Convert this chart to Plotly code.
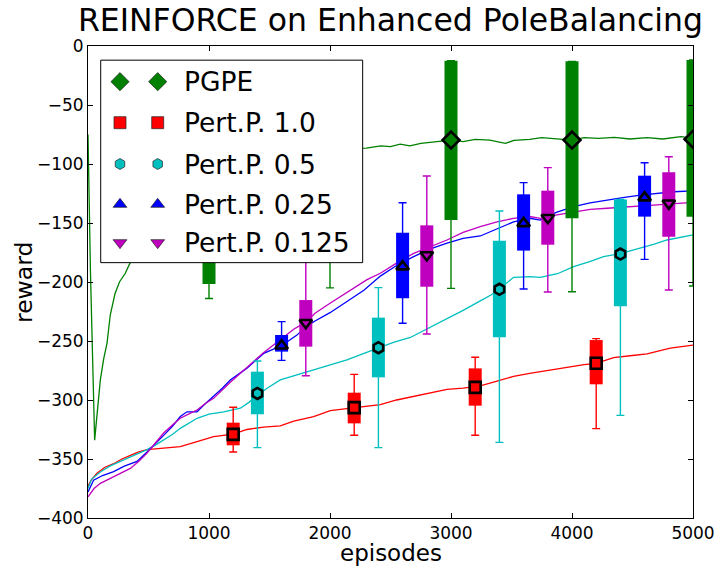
import plotly.graph_objects as go

# ---------------- data ----------------
# learning curves (episodes, reward)
pgpe_x = [0, 20, 55, 102, 130, 157, 184, 223, 260, 306, 347, 420, 500, 600, 750, 900, 1000, 1200,
          1500, 1800, 2000, 2150, 2300, 2420, 2500, 2580, 2660, 2750, 2860, 3000, 3100, 3200, 3320,
          3450, 3520, 3650, 3750, 3870, 4000, 4100, 4220, 4350, 4480, 4620, 4750, 4900, 5000]
pgpe_y = [-75, -190, -334, -283, -265, -252, -228, -210, -200, -193, -184, -165, -150, -137, -120,
          -108, -102, -95, -90, -88, -87, -87, -86.5, -84.7, -85.3, -83.1, -84.7, -82.5, -81.1, -79.7,
          -81.1, -79.1, -79.7, -82.5, -80, -79.1, -77.7, -78.8, -79.7, -77.7, -78.2, -77.4, -78.8,
          -77.7, -78.8, -76.8, -78]

p10_x = [0, 25, 74, 140, 212, 280, 350, 420, 488, 600, 763, 901, 1038, 1200, 1314, 1450, 1589, 1700,
         1865, 2002, 2200, 2416, 2550, 2691, 2830, 2967, 3100, 3242, 3380, 3517, 3650, 3793, 3950,
         4100, 4200, 4344, 4480, 4620, 4812, 5000]
p10_y = [-373, -368, -362, -357, -354, -350, -347, -344, -342, -341, -339.6, -335.3, -331, -329, -325,
         -323, -322, -318, -314, -309, -306.5, -304, -300, -297, -294, -291, -290, -288, -284, -280,
         -277.5, -275, -272, -270, -269, -264, -262.5, -261, -256, -253.5]

p05_x = [0, 30, 102, 180, 267, 380, 488, 560, 625, 700, 763, 830, 901, 1000, 1121, 1259, 1330, 1400,
         1480, 1589, 1720, 1865, 2000, 2140, 2270, 2400, 2530, 2664, 2800, 2967, 3100, 3242, 3330,
         3400, 3517, 3650, 3738, 3880, 4013, 4140, 4261, 4407, 4565, 4680, 4785, 4900, 5000]
p05_y = [-375, -367, -361, -356, -352, -347, -342, -338, -334, -329, -324, -320, -315.5, -312, -310,
         -307, -302, -296, -290, -283, -279, -274.6, -270, -266, -261, -255.7, -251, -247, -240, -231,
         -224, -216, -211, -206, -196, -195.5, -196, -193, -187, -183, -178.5, -175.7, -171.5, -168,
         -164.4, -162, -160]

p025_x = [0, 46, 120, 212, 300, 405, 488, 560, 625, 700, 763, 818, 901, 960, 1038, 1110, 1176, 1250,
          1314, 1380, 1452, 1600, 1727, 1800, 1876, 2000, 2151, 2280, 2416, 2550, 2691, 2830, 2967,
          3100, 3242, 3380, 3517, 3650, 3738, 3870, 4013, 4150, 4289, 4420, 4565, 4700, 4840, 5000]
p025_y = [-378, -368, -364, -360.7, -356, -352, -344, -337, -330, -322, -314, -310, -310, -304, -297,
          -290, -283, -278, -273, -267, -260.5, -254, -245, -238, -233, -226, -216, -207, -195, -186,
          -178.5, -172, -167, -163, -161, -155, -149, -146, -147.5, -141, -136.2, -133, -130.5, -128.5,
          -126.3, -125, -123.5, -122.7]

p0125_x = [0, 50, 102, 212, 350, 420, 488, 560, 625, 700, 763, 830, 901, 970, 1038, 1176, 1314, 1450,
           1589, 1700, 1800, 1876, 2000, 2151, 2306, 2416, 2550, 2691, 2830, 2967, 3100, 3242, 3380,
           3517, 3650, 3738, 3876, 4013, 4151, 4290, 4427, 4560, 4702, 4850, 5000]
p0125_y = [-382, -375, -370.6, -365, -358, -352, -345, -336, -328, -321, -315.5, -312, -308.5, -303,
           -298.6, -285, -272, -260, -249, -240, -234, -226.5, -218, -208, -198, -192.6, -184, -175.7,
           -170, -164.4, -158, -153, -149, -146, -144.5, -146, -143.2, -141, -138.4, -137.5, -136.7,
           -135.5, -134.7, -133.5, -132.5]

# box statistics: position, lower whisker, q1, median, q3, upper whisker
pgpe_pos = [1000, 2000, 3000, 4000, 5000]
pgpe_lo = [-214, -205, -205.4, -208.2, -203.4]
pgpe_q1 = [-201.7, -150, -147.5, -146, -144.6]
pgpe_med = [-100, -83, -79.7, -79.7, -79]
pgpe_q3 = [-15, -13, -12.4, -13, -11.9]
pgpe_hi = [-15, -13, -12.4, -13, -11.9]

p10_pos = [1200, 2200, 3200, 4200]
p10_lo = [-344.1, -329.9, -329.9, -324.3]
p10_q1 = [-338.4, -319.8, -304.8, -286.7]
p10_med = [-329.1, -306.5, -289.3, -268.9]
p10_q3 = [-319.2, -293.8, -273.2, -249.2]
p10_hi = [-306.2, -278.3, -263.8, -248]

p05_pos = [1400, 2400, 3400, 4400]
p05_lo = [-340.4, -340.4, -335.9, -313]
p05_q1 = [-312.1, -280.8, -246.9, -220.6]
p05_med = [-294.4, -255.7, -206.2, -176.3]
p05_q3 = [-276, -230.2, -165, -130]
p05_hi = [-266.9, -204.8, -139.8, -130]

p025_pos = [1600, 2600, 3600, 4600]
p025_lo = [-266.4, -235, -205.9, -180.8]
p025_q1 = [-259, -213.8, -173.4, -144.6]
p025_med = [-254, -187, -150.3, -128.5]
p025_q3 = [-244.9, -158.2, -125.7, -109.9]
p025_hi = [-233.6, -132.8, -115.8, -98.9]

p0125_pos = [1800, 2800, 3800, 4800]
p0125_lo = [-279.4, -244.1, -208.5, -206.8]
p0125_q1 = [-254.8, -204, -168.4, -161.6]
p0125_med = [-234.5, -177.1, -145.5, -133.3]
p0125_q3 = [-215.3, -152, -122.6, -107]
p0125_hi = [-170, -110.2, -103.1, -93.8]

labels = ["PGPE", "Pert.P. 1.0", "Pert.P. 0.5", "Pert.P. 0.25", "Pert.P. 0.125"]
colors = ["#008000", "#ff0000", "#00bfbf", "#0000ff", "#bf00bf"]
symbols = ["diamond", "square", "hexagon", "triangle-up", "triangle-down"]
med_sizes = [13, 11, 11, 11, 11]
leg_sizes = [14, 12, 11, 12, 12]

x_ticks = [0, 1000, 2000, 3000, 4000, 5000]
y_ticks = list(range(-400, 1, 50))

curves = [(pgpe_x, pgpe_y), (p10_x, p10_y), (p05_x, p05_y), (p025_x, p025_y), (p0125_x, p0125_y)]
boxes = [
    (pgpe_pos, pgpe_lo, pgpe_q1, pgpe_med, pgpe_q3, pgpe_hi),
    (p10_pos, p10_lo, p10_q1, p10_med, p10_q3, p10_hi),
    (p05_pos, p05_lo, p05_q1, p05_med, p05_q3, p05_hi),
    (p025_pos, p025_lo, p025_q1, p025_med, p025_q3, p025_hi),
    (p0125_pos, p0125_lo, p0125_q1, p0125_med, p0125_q3, p0125_hi),
]

FONT = "DejaVu Sans"
fig = go.Figure()

# learning curves
for (cx, cy), col in zip(curves, colors):
    fig.add_trace(go.Scatter(x=cx, y=cy, mode="lines", line=dict(color=col, width=1.3),
                             showlegend=False, hoverinfo="skip"))

# boxes (thick vertical bars q1..q3), whiskers with caps, median markers
for (pos, lo, q1, med, q3, hi), col, sym, ms in zip(boxes, colors, symbols, med_sizes):
    bx, by = [], []
    for p, a, b in zip(pos, q1, q3):
        bx += [p, p, None]
        by += [a, b, None]
    fig.add_trace(go.Scatter(x=bx, y=by, mode="lines", line=dict(color=col, width=13),
                             connectgaps=False, showlegend=False, hoverinfo="skip"))
    fig.add_trace(go.Scatter(
        x=pos, y=med, mode="markers",
        marker=dict(symbol=sym, size=ms, color=col, line=dict(color="black", width=2.6)),
        error_y=dict(type="data", symmetric=False,
                     array=[h - m for h, m in zip(hi, med)],
                     arrayminus=[m - l for m, l in zip(med, lo)],
                     color=col, thickness=1.4, width=4),
        showlegend=False, hoverinfo="skip"))

# custom legend drawn on an overlay axis (fractions of plot area)
lx0, lx1, ly0, ly1 = 0.021, 0.454, 0.541, 0.970
row_y = [0.9244, 0.8375, 0.750, 0.6646, 0.5833]
mk_x = [0.0529, 0.1152]
fig.add_trace(go.Scatter(x=[lx0, lx1, lx1, lx0, lx0], y=[ly0, ly0, ly1, ly1, ly0],
                         mode="lines", fill="toself", fillcolor="white",
                         line=dict(color="black", width=1), xaxis="x2", yaxis="y2",
                         showlegend=False, hoverinfo="skip"))
for ry, col, sym, ls in zip(row_y, colors, symbols, leg_sizes):
    fig.add_trace(go.Scatter(x=mk_x, y=[ry, ry], mode="markers",
                             marker=dict(symbol=sym, size=ls, color=col,
                                         line=dict(color="#222222", width=0.7)),
                             xaxis="x2", yaxis="y2", showlegend=False, hoverinfo="skip"))

annotations = []
for ry, lab in zip(row_y, labels):
    annotations.append(dict(x=0.156, y=ry, xref="paper", yref="paper", text=lab,
                            showarrow=False, xanchor="left", yanchor="middle",
                            font=dict(family=FONT, size=26.5, color="black")))
annotations.append(dict(x=0.5, y=-0.0735, xref="paper", yref="paper", text="episodes",
                        showarrow=False, xanchor="center", yanchor="middle",
                        font=dict(family=FONT, size=23, color="black")))
annotations.append(dict(x=-0.1058, y=0.5, xref="paper", yref="paper", text="reward",
                        showarrow=False, xanchor="center", yanchor="middle", textangle=-90,
                        font=dict(family=FONT, size=23.5, color="black")))

axis_common = dict(showline=True, linecolor="black", linewidth=1, mirror="ticks",
                   ticks="inside", ticklen=5, tickcolor="black", tickwidth=1,
                   showgrid=False, zeroline=False,
                   tickfont=dict(family=FONT, size=17, color="black"))

fig.update_layout(
    width=715, height=568,
    margin=dict(l=88, r=22, t=46, b=50, autoexpand=False),
    paper_bgcolor="white", plot_bgcolor="white",
    showlegend=False,
    title=dict(text="REINFORCE on Enhanced PoleBalancing", x=0.5, xref="paper",
               y=1 - 19.5 / 568, yref="container", xanchor="center", yanchor="middle",
               font=dict(family=FONT, size=31.5, color="black")),
    xaxis=dict(range=[0, 5000], tickvals=x_ticks, **axis_common),
    yaxis=dict(range=[-400, 0], tickvals=y_ticks, **axis_common),
    xaxis2=dict(range=[0, 1], overlaying="x", visible=False, anchor="y2"),
    yaxis2=dict(range=[0, 1], overlaying="y", visible=False, anchor="x2"),
    annotations=annotations,
)

fig.write_html("out.html")
